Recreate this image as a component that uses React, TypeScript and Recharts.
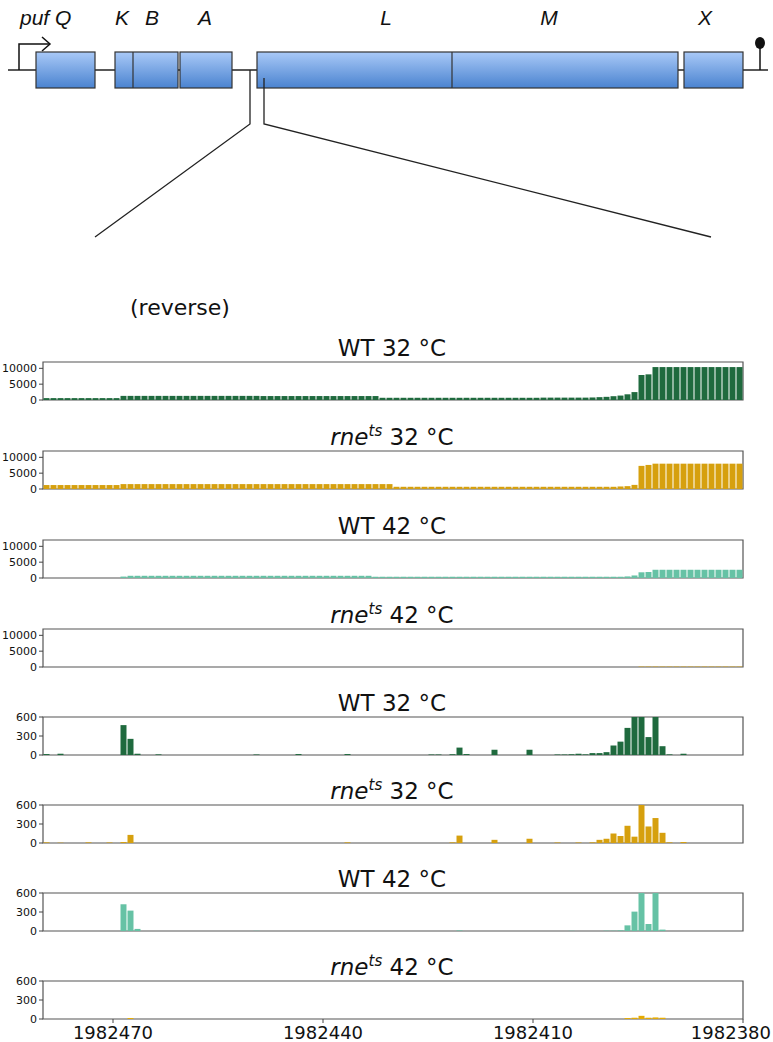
import { BarChart, Bar, XAxis, YAxis, ReferenceArea } from "recharts";

// genomic positions, left to right (reverse strand)
const POSITIONS = Array.from({ length: 100 }, (_, i) => 1982479 - i);
const X_TICKS = [1982470, 1982440, 1982410, 1982380];
const HIGH_TICKS = [0, 5000, 10000];
const LOW_TICKS = [0, 300, 600];

// coverage (top four panels)
const wt32Cov = [
  600, 600, 600, 600, 600, 600, 600, 600, 600, 600,
  600, 1300, 1300, 1300, 1300, 1300, 1300, 1300, 1300, 1300,
  1300, 1300, 1300, 1300, 1300, 1300, 1300, 1300, 1300, 1300,
  1300, 1250, 1250, 1250, 1250, 1250, 1250, 1250, 1250, 1250,
  1250, 1250, 1250, 1250, 1250, 1250, 1250, 1250, 700, 700,
  700, 700, 700, 700, 700, 700, 700, 700, 700, 700,
  700, 700, 700, 700, 700, 700, 700, 700, 700, 700,
  700, 750, 750, 750, 750, 750, 750, 750, 800, 900,
  1000, 1200, 1400, 1800, 2500, 7900, 8100, 10400, 10400, 10400,
  10400, 10400, 10400, 10400, 10400, 10400, 10400, 10400, 10400, 10400,
];
const rne32Cov = [
  1250, 1250, 1250, 1250, 1250, 1250, 1250, 1250, 1250, 1250,
  1250, 1550, 1550, 1550, 1550, 1550, 1550, 1550, 1550, 1550,
  1550, 1550, 1550, 1550, 1550, 1550, 1550, 1550, 1550, 1550,
  1550, 1550, 1550, 1550, 1550, 1550, 1550, 1550, 1550, 1550,
  1550, 1550, 1550, 1550, 1550, 1550, 1550, 1550, 1550, 1550,
  700, 700, 700, 700, 700, 700, 700, 700, 700, 700,
  700, 700, 700, 700, 700, 700, 700, 700, 700, 700,
  700, 700, 700, 700, 700, 700, 700, 700, 700, 700,
  700, 700, 800, 900, 1300, 7300, 7600, 8000, 8000, 8000,
  8000, 8000, 8000, 8000, 8000, 8000, 8000, 8000, 8000, 8000,
];
const wt42Cov = [
  0, 0, 0, 0, 0, 0, 0, 0, 0, 0,
  0, 450, 700, 700, 700, 700, 700, 700, 700, 700,
  700, 700, 700, 700, 700, 700, 700, 700, 700, 700,
  700, 700, 700, 700, 700, 700, 700, 700, 700, 700,
  700, 700, 700, 700, 700, 700, 700, 400, 400, 400,
  400, 400, 400, 400, 400, 400, 400, 400, 400, 400,
  400, 400, 400, 400, 400, 400, 400, 400, 400, 400,
  400, 400, 400, 400, 400, 400, 400, 400, 400, 400,
  400, 400, 400, 500, 800, 1800, 1900, 2600, 2600, 2600,
  2600, 2600, 2600, 2600, 2600, 2600, 2600, 2600, 2600, 2600,
];
const rne42Cov = [
  0, 0, 0, 0, 0, 0, 0, 0, 0, 0,
  0, 0, 0, 0, 0, 0, 0, 0, 0, 0,
  0, 0, 0, 0, 0, 0, 0, 0, 0, 0,
  0, 0, 0, 0, 0, 0, 0, 0, 0, 0,
  0, 0, 0, 0, 0, 0, 0, 0, 0, 0,
  0, 0, 0, 0, 0, 0, 0, 0, 0, 0,
  0, 0, 0, 0, 0, 0, 0, 0, 0, 0,
  0, 0, 0, 0, 0, 0, 0, 0, 0, 0,
  0, 0, 0, 0, 0, 120, 120, 120, 120, 120,
  120, 120, 120, 120, 120, 120, 120, 120, 120, 120,
];

// 5' ends (bottom four panels)
const wt32Ends = [
  15, 0, 20, 0, 0, 0, 0, 0, 0, 0,
  0, 472, 255, 20, 0, 0, 10, 0, 0, 0,
  0, 0, 0, 0, 0, 0, 0, 0, 0, 0,
  8, 0, 0, 0, 0, 0, 15, 0, 0, 0,
  0, 0, 0, 15, 0, 0, 0, 0, 0, 0,
  0, 0, 0, 0, 0, 8, 8, 0, 12, 117,
  15, 0, 0, 0, 83, 0, 0, 0, 0, 83,
  0, 0, 0, 8, 8, 12, 20, 10, 30, 30,
  45, 150, 211, 428, 900, 1100, 283, 800, 139, 10,
  0, 20, 0, 0, 0, 0, 0, 0, 0, 0,
];
const rne32Ends = [
  10, 0, 5, 0, 0, 0, 10, 0, 0, 8,
  0, 15, 128, 0, 0, 0, 0, 0, 0, 0,
  0, 0, 0, 0, 0, 0, 0, 0, 0, 0,
  0, 0, 0, 0, 0, 0, 0, 0, 0, 0,
  0, 0, 0, 10, 0, 0, 0, 0, 0, 0,
  0, 0, 0, 0, 0, 0, 0, 0, 10, 117,
  0, 0, 0, 0, 50, 0, 0, 0, 0, 67,
  0, 0, 0, 8, 0, 0, 8, 0, 10, 50,
  67, 150, 111, 272, 100, 650, 261, 394, 161, 10,
  0, 15, 0, 0, 0, 0, 0, 0, 0, 0,
];
const wt42Ends = [
  0, 0, 0, 0, 0, 0, 0, 0, 0, 0,
  0, 422, 322, 33, 0, 0, 0, 0, 0, 0,
  0, 0, 0, 0, 0, 0, 0, 0, 0, 0,
  3, 0, 0, 0, 0, 0, 0, 0, 0, 0,
  0, 0, 0, 0, 0, 0, 0, 0, 0, 0,
  0, 0, 0, 0, 0, 0, 0, 0, 0, 8,
  0, 0, 0, 0, 0, 0, 0, 0, 0, 0,
  0, 0, 0, 0, 0, 3, 0, 0, 0, 0,
  5, 5, 10, 89, 306, 900, 111, 800, 22, 0,
  0, 0, 0, 0, 0, 0, 0, 0, 0, 0,
];
const rne42Ends = [
  0, 0, 0, 0, 0, 0, 0, 0, 0, 0,
  0, 0, 15, 0, 0, 0, 0, 0, 0, 0,
  0, 0, 0, 0, 0, 0, 0, 0, 0, 0,
  0, 0, 0, 0, 0, 0, 0, 0, 0, 0,
  0, 0, 0, 0, 0, 0, 0, 0, 0, 0,
  0, 0, 0, 0, 0, 0, 0, 0, 0, 0,
  0, 0, 0, 0, 0, 0, 0, 0, 0, 0,
  0, 0, 0, 0, 0, 0, 0, 0, 0, 0,
  0, 0, 0, 15, 20, 50, 20, 25, 20, 0,
  0, 0, 0, 0, 0, 0, 0, 0, 0, 0,
];

const GREEN = "#1f6a3e";
const GOLD = "#d6a00e";
const TEAL = "#66c2a5";
const YELLOW = "#e6ab02";

const FONT = "DejaVu Sans, sans-serif";

const PANELS = [
  { wt: true, temp: "32", values: wt32Cov, color: GREEN, yMax: 12000, ticks: HIGH_TICKS, top: 362 },
  { wt: false, temp: "32", values: rne32Cov, color: GOLD, yMax: 12000, ticks: HIGH_TICKS, top: 451 },
  { wt: true, temp: "42", values: wt42Cov, color: TEAL, yMax: 12000, ticks: HIGH_TICKS, top: 540 },
  { wt: false, temp: "42", values: rne42Cov, color: YELLOW, yMax: 12000, ticks: HIGH_TICKS, top: 629 },
  { wt: true, temp: "32", values: wt32Ends, color: GREEN, yMax: 600, ticks: LOW_TICKS, top: 717 },
  { wt: false, temp: "32", values: rne32Ends, color: GOLD, yMax: 600, ticks: LOW_TICKS, top: 805 },
  { wt: true, temp: "42", values: wt42Ends, color: TEAL, yMax: 600, ticks: LOW_TICKS, top: 893 },
  { wt: false, temp: "42", values: rne42Ends, color: YELLOW, yMax: 600, ticks: LOW_TICKS, top: 981 },
];

const PLOT_H = 38;

// the last label sits at the page edge, so keep it inside
function XTick({ x, y, payload }: any) {
  const last = payload.value === X_TICKS[X_TICKS.length - 1];
  return (
    <text
      x={last ? 771 : x}
      y={y}
      dy="0.8em"
      textAnchor={last ? "end" : "middle"}
      fontSize={18}
      fill="#111"
      fontFamily={FONT}
    >
      {payload.value}
    </text>
  );
}

function Panel({ values, color, yMax, ticks, top, showX }: any) {
  const data = POSITIONS.map((p, i) => ({ x: p + 0.5, v: values[i] }));
  const h = showX ? 8 + PLOT_H + 4 + 26 : 8 + PLOT_H + 8;
  return (
    <div style={{ position: "absolute", left: 0, top: top - 8 }}>
      <BarChart
        width={773}
        height={h}
        data={data}
        margin={{ top: 8, right: 30, bottom: showX ? 4 : 8, left: 3 }}
        barCategoryGap={0.5}
      >
        <XAxis
          type="number"
          dataKey="x"
          domain={[1982380, 1982480]}
          reversed
          ticks={X_TICKS}
          interval={0}
          hide={!showX}
          height={26}
          allowDataOverflow
          axisLine={false}
          tickSize={4}
          tickLine={{ stroke: "#444" }}
          tick={<XTick />}
        />
        <YAxis
          type="number"
          domain={[0, yMax]}
          ticks={ticks}
          interval={0}
          width={40}
          allowDataOverflow
          axisLine={false}
          tickSize={4}
          tickLine={{ stroke: "#444" }}
          tick={{ fontSize: 11, fill: "#111", fontFamily: FONT }}
        />
        <Bar dataKey="v" fill={color} isAnimationActive={false} />
        <ReferenceArea
          x1={1982480}
          x2={1982380}
          y1={0}
          y2={yMax}
          fill="none"
          fillOpacity={0}
          stroke="#555"
          strokeWidth={1.2}
          ifOverflow="visible"
        />
      </BarChart>
    </div>
  );
}

function Title({ wt, temp, y }: any) {
  return (
    <text x={392} y={y} textAnchor="middle" fontSize={23} fill="#111" fontFamily={FONT}>
      {wt ? (
        <tspan>WT {temp} °C</tspan>
      ) : (
        <>
          <tspan fontStyle="italic">rne</tspan>
          <tspan fontStyle="italic" fontSize={15} dy={-9}>ts</tspan>
          <tspan dy={9}> {temp} °C</tspan>
        </>
      )}
    </text>
  );
}

function GeneMap() {
  const labelStyle = { fontSize: 21, fontStyle: "italic", fill: "#111", fontFamily: "Liberation Sans, sans-serif" } as any;
  return (
    <g>
      <defs>
        <linearGradient id="geneFill" x1="0" y1="0" x2="0" y2="1">
          <stop offset="0%" stopColor="#a9c9f7" />
          <stop offset="100%" stopColor="#4a83d0" />
        </linearGradient>
      </defs>
      <line x1={8} y1={70} x2={768} y2={70} stroke="#222" strokeWidth={1.3} />
      {/* promoter arrow */}
      <polyline points="19,70 19,44 50,44" fill="none" stroke="#111" strokeWidth={1.5} />
      <polyline points="42,37 50,44 42,51" fill="none" stroke="#111" strokeWidth={1.5} />
      {/* terminator */}
      <line x1={760} y1={70} x2={760} y2={46} stroke="#111" strokeWidth={1.5} />
      <ellipse cx={760} cy={43} rx={5} ry={6} fill="#111" />
      {/* genes */}
      <rect x={36} y={52} width={59} height={36} fill="url(#geneFill)" stroke="#333" strokeWidth={1.2} />
      <rect x={115} y={52} width={63} height={36} fill="url(#geneFill)" stroke="#333" strokeWidth={1.2} />
      <line x1={133} y1={52} x2={133} y2={88} stroke="#333" strokeWidth={1.2} />
      <rect x={180} y={52} width={52} height={36} fill="url(#geneFill)" stroke="#333" strokeWidth={1.2} />
      <rect x={257} y={52} width={421} height={36} fill="url(#geneFill)" stroke="#333" strokeWidth={1.2} />
      <line x1={452} y1={52} x2={452} y2={88} stroke="#333" strokeWidth={1.2} />
      <rect x={684} y={52} width={59} height={36} fill="url(#geneFill)" stroke="#333" strokeWidth={1.2} />
      <text x={20} y={25} style={labelStyle}>puf Q</text>
      <text x={122} y={25} textAnchor="middle" style={labelStyle}>K</text>
      <text x={152} y={25} textAnchor="middle" style={labelStyle}>B</text>
      <text x={205} y={25} textAnchor="middle" style={labelStyle}>A</text>
      <text x={386} y={25} textAnchor="middle" style={labelStyle}>L</text>
      <text x={549} y={25} textAnchor="middle" style={labelStyle}>M</text>
      <text x={705} y={25} textAnchor="middle" style={labelStyle}>X</text>
      {/* zoom lines */}
      <polyline points="250,70 250,124 95,237" fill="none" stroke="#222" strokeWidth={1.3} />
      <polyline points="264,78 264,124 711,237" fill="none" stroke="#222" strokeWidth={1.3} />
    </g>
  );
}

export default function App() {
  return (
    <div style={{ position: "absolute", left: 0, top: 0, width: 773, height: 1042, background: "#fff", fontFamily: FONT }}>
      {PANELS.map((p, i) => (
        <Panel key={i} values={p.values} color={p.color} yMax={p.yMax} ticks={p.ticks} top={p.top} showX={i === PANELS.length - 1} />
      ))}
      <svg width={773} height={1042} style={{ position: "absolute", left: 0, top: 0, pointerEvents: "none" }}>
        <GeneMap />
        <text x={130} y={315} fontSize={22} fill="#111" fontFamily={FONT}>(reverse)</text>
        {PANELS.map((p, i) => (
          <Title key={i} wt={p.wt} temp={p.temp} y={p.top - 6} />
        ))}
      </svg>
    </div>
  );
}
